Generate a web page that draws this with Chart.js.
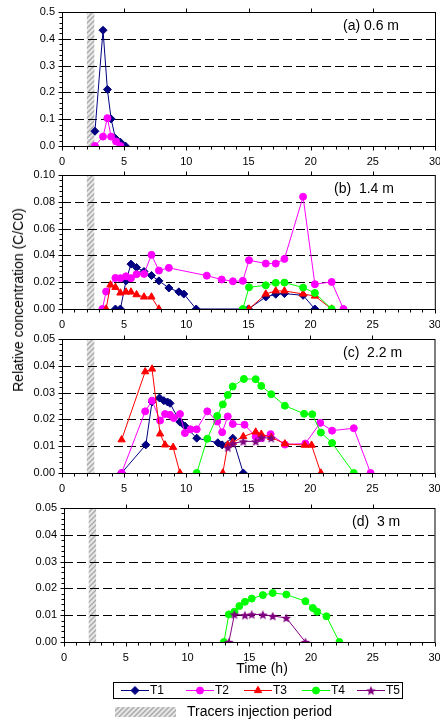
<!DOCTYPE html>
<html>
<head>
<meta charset="utf-8">
<script src="https://cdn.jsdelivr.net/npm/chart.js@4.4.1/dist/chart.umd.min.js"></script>
<style>
  html, body { margin: 0; padding: 0; background: #fff; }
  body { width: 440px; height: 724px; position: relative; overflow: hidden; font-family: "Liberation Sans", Arial, sans-serif; }
  canvas { position: absolute; left: 0; }
  #ytitle { position: absolute; left: 18px; top: 300px; transform: translate(-50%, -50%) rotate(-90deg); font-size: 14px; white-space: nowrap; color: #000; }
</style>
</head>
<body>
<canvas id="panelA" width="440" height="166" style="top:0px"></canvas>
<canvas id="panelB" width="440" height="166" style="top:163px"></canvas>
<canvas id="panelC" width="440" height="166" style="top:327px"></canvas>
<canvas id="panelD" width="440" height="228" style="top:496px"></canvas>
<div id="ytitle">Relative concentration (C/C0)</div>
<script>
// tracers
const seriesNames = ['T1', 'T2', 'T3', 'T4', 'T5'];
const seriesColors = ['#000080', '#FF00FF', '#FF0000', '#00FF00', '#800080'];

// injection period (h)
const injection = [2.0, 2.6];

const xTickLabels = ['0', '5', '10', '15', '20', '25', '30'];
const yTicksA = ['0.0', '0.1', '0.2', '0.3', '0.4', '0.5'];
const yTicksB = ['0.00', '0.02', '0.04', '0.06', '0.08', '0.10'];
const yTicksCD = ['0.00', '0.01', '0.02', '0.03', '0.04', '0.05'];

// (a) 0.6 m
const aTime1 = [2.65, 3.3, 3.65, 3.95, 4.3, 4.7, 5.1];
const aT1 = [0.055, 0.432, 0.211, 0.101, 0.028, 0.014, 0];
const aTime2 = [2.65, 3.3, 3.65, 3.95, 4.35, 4.7];
const aT2 = [0, 0.035, 0.104, 0.035, 0.017, 0];

// (b) 1.4 m
const bTime1 = [4.3, 4.7, 5.15, 5.55, 6.0, 6.6, 7.2, 7.8, 8.6, 9.4, 9.8, 10.8, 15.0, 16.4, 17.2, 17.9, 19.4, 20.35];
const bT1 = [0, 0, 0.021, 0.0335, 0.031, 0.028, 0.025, 0.021, 0.0157, 0.0128, 0.0112, 0, 0, 0.009, 0.011, 0.0115, 0.0102, 0];
const bTime2 = [3.25, 3.55, 4.3, 4.7, 5.15, 5.55, 6.0, 6.6, 7.2, 7.8, 8.6, 11.65, 12.85, 13.75, 14.55, 15.05, 16.4, 17.2, 17.9, 19.4, 20.35, 21.7, 22.65];
const bT2 = [0, 0.013, 0.0232, 0.023, 0.0244, 0.023, 0.026, 0.0262, 0.0404, 0.0287, 0.0307, 0.0249, 0.022, 0.0207, 0.021, 0.0364, 0.0339, 0.0339, 0.0374, 0.0838, 0.0185, 0.0202, 0];
const bTime3 = [3.55, 3.9, 4.3, 4.7, 5.15, 5.55, 6.0, 6.6, 7.2, 7.8, 11, 15.05, 16.4, 17.2, 17.9, 19.4, 20.35, 21.7];
const bT3 = [0, 0.018, 0.0162, 0.012, 0.0127, 0.0127, 0.0107, 0.009, 0.009, 0, null, 0, 0.0112, 0.0135, 0.0135, 0.0112, 0.0097, 0];
const bTime4 = [14.55, 15.05, 16.4, 17.2, 17.9, 19.4, 20.35, 21.7];
const bT4 = [0, 0.0162, 0.0177, 0.0195, 0.0197, 0.016, 0.012, 0];

// (c) 2.2 m
const cTime1 = [4.8, 6.75, 7.25, 7.85, 8.2, 8.5, 8.7, 9.5, 9.9, 10.85, 12.55, 12.9, 13.75, 14.6];
const cT1 = [0, 0.0105, 0.0265, 0.028, 0.027, 0.0265, 0.026, 0.019, 0.0175, 0.013, 0.0113, 0.0105, 0.013, 0];
const cTime2 = [4.8, 6.7, 7.25, 7.9, 8.3, 8.7, 9.0, 9.5, 9.9, 10.35, 10.85, 11.7, 12.5, 12.9, 13.35, 13.75, 14.7, 15.6, 16.05, 16.8, 17.95, 19.6, 20.8, 21.75, 23.5, 24.85];
const cT2 = [0, 0.023, 0.027, 0.0196, 0.022, 0.0217, 0.0205, 0.022, 0.0149, 0.0163, 0.0163, 0.023, 0.0192, 0.0152, 0.0211, 0.0183, 0.018, 0.0136, 0.013, 0.0145, 0.0106, 0.011, 0.0187, 0.0158, 0.0167, 0];
const cTime3 = [4.8, 6.7, 7.25, 7.9, 8.3, 8.95, 9.5, 11, 12.95, 13.35, 13.75, 14.6, 15.6, 16.05, 16.85, 17.95, 19.55, 20.1, 20.85];
const cT3 = [0.0124, 0.0378, 0.0388, 0.0146, 0.0105, 0.0096, 0, null, 0, 0.0105, 0.0114, 0.0136, 0.0153, 0.0145, 0.0133, 0.0109, 0.0104, 0.0104, 0];
const cTime4 = [10.85, 11.7, 12.5, 12.95, 13.35, 13.75, 14.65, 15.6, 16.05, 16.85, 17.95, 19.5, 20.15, 20.85, 21.75, 23.5];
const cT4 = [0, 0.0128, 0.0213, 0.0256, 0.0291, 0.0323, 0.0351, 0.035, 0.0325, 0.0294, 0.0251, 0.0221, 0.0219, 0.0151, 0.0112, 0];
const cTime5 = [13.35, 13.75, 14.6, 15.6, 16.05, 16.85];
const cT5 = [0.0095, 0.011, 0.0118, 0.0118, 0.0132, 0.013];

// (d) 3 m
const dTime4 = [12.95, 13.35, 13.8, 14.2, 14.65, 15.2, 16.1, 16.9, 18.0, 19.55, 20.15, 20.5, 21.25, 22.3];
const dT4 = [0, 0.0103, 0.0113, 0.0134, 0.015, 0.0162, 0.0175, 0.0183, 0.0177, 0.0152, 0.0127, 0.0113, 0.0096, 0];
const dTime5 = [13.35, 13.8, 14.65, 15.2, 16.1, 16.9, 18.0, 19.55];
const dT5 = [0, 0.0103, 0.01, 0.0103, 0.0102, 0.0097, 0.009, 0];

const xTitle = 'Time (h)';
const injectionLabel = 'Tracers injection period';
const FONT = '"Liberation Sans", Arial, sans-serif';

Chart.defaults.font.family = FONT;
Chart.defaults.color = '#000';

// filled star marker for T5
function starImage(color, r) {
    const c = document.createElement('canvas');
    const s = Math.ceil(r * 2 + 2);
    c.width = c.height = s;
    const g = c.getContext('2d');
    g.fillStyle = color;
    g.beginPath();
    for (let i = 0; i < 10; i++) {
        const rr = i % 2 ? r * 0.45 : r;
        const ang = -Math.PI / 2 + i * Math.PI / 5;
        g.lineTo(s / 2 + rr * Math.cos(ang), s / 2 + rr * Math.sin(ang) + 0.5);
    }
    g.closePath();
    g.fill();
    return c;
}
const markers = ['rectRot', 'circle', 'triangle', 'circle', starImage('#800080', 5)];
const radii = [4, 3.5, 4.2, 3.5, 4.5];

// hatch tile for the injection band
const hatchTile = document.createElement('canvas');
hatchTile.width = hatchTile.height = 5;
(function() {
    const g = hatchTile.getContext('2d');
    g.fillStyle = '#e6e6e6';
    g.fillRect(0, 0, 5, 5);
    g.strokeStyle = '#a8a8a8';
    g.lineWidth = 1.3;
    g.beginPath();
    g.moveTo(-1, 6); g.lineTo(6, -1);
    g.moveTo(-1, 1); g.lineTo(1, -1);
    g.moveTo(4, 6); g.lineTo(6, 4);
    g.stroke();
})();

function series(i, times, values) {
    return {
        label: seriesNames[i],
        data: times.map((t, k) => ({ x: t, y: values[k] })),
        borderColor: seriesColors[i],
        backgroundColor: seriesColors[i],
        borderWidth: 1,
        pointStyle: markers[i],
        pointRadius: radii[i],
        pointBorderWidth: 1,
        tension: 0,
        spanGaps: false,
        order: 5 - i
    };
}

function drawMarker(ctx, i, x, y) {
    ctx.save();
    ctx.fillStyle = seriesColors[i];
    ctx.strokeStyle = seriesColors[i];
    ctx.lineWidth = 1;
    Chart.helpers.drawPoint(ctx, { pointStyle: markers[i], radius: radii[i], rotation: 0, borderWidth: 1 }, x, y);
    ctx.restore();
}

const deco = {
    id: 'deco',
    beforeDatasetsDraw(chart, args, o) {
        const { ctx, chartArea: a, scales: { x, y } } = chart;
        ctx.save();
        // injection band
        const x1 = x.getPixelForValue(injection[0]);
        const x2 = x.getPixelForValue(injection[1]);
        ctx.fillStyle = ctx.createPattern(hatchTile, 'repeat');
        ctx.fillRect(x1, a.top, x2 - x1, a.bottom - a.top);
        // dashed gridlines
        ctx.strokeStyle = '#000';
        ctx.lineWidth = 1;
        ctx.setLineDash([9, 4]);
        y.ticks.forEach(t => {
            if (t.value > y.min + 1e-9 && t.value < y.max - 1e-9) {
                const py = Math.round(y.getPixelForValue(t.value)) + 0.5;
                ctx.beginPath();
                ctx.moveTo(a.left, py);
                ctx.lineTo(a.right, py);
                ctx.stroke();
            }
        });
        ctx.restore();
    },
    afterDatasetsDraw(chart, args, o) {
        const { ctx, chartArea: a, scales: { x, y } } = chart;
        ctx.save();
        ctx.strokeStyle = '#000';
        ctx.lineWidth = 1;
        ctx.strokeRect(a.left + 0.5, a.top + 0.5, a.right - a.left, a.bottom - a.top);
        ctx.beginPath();
        // x ticks: minor every 1 h, major every 5 h
        for (let v = 0; v <= 30; v++) {
            const px = Math.round(x.getPixelForValue(v)) + 0.5;
            const len = v % 5 === 0 ? 4 : 3;
            ctx.moveTo(px, a.bottom + 0.5);
            ctx.lineTo(px, a.bottom + 0.5 + len);
            if (v % 5 === 0 && v > 0 && v < 30) {
                ctx.moveTo(px, a.top + 0.5);
                ctx.lineTo(px, a.top + 0.5 - 4);
            }
        }
        // y ticks: five minor steps per major step
        const step = o.yStep / 5;
        const n = Math.round((y.max - y.min) / step);
        for (let k = 0; k <= n; k++) {
            const py = Math.round(y.getPixelForValue(k * step)) + 0.5;
            const len = k % 5 === 0 ? 4 : 3;
            ctx.moveTo(a.left + 0.5, py);
            ctx.lineTo(a.left + 0.5 - len, py);
        }
        ctx.stroke();
        // panel tag
        ctx.fillStyle = '#000';
        ctx.font = '14px ' + FONT;
        ctx.textBaseline = 'middle';
        ctx.textAlign = 'left';
        ctx.fillText(o.tag, o.tagX, a.top + 14);
        ctx.restore();
    },
    afterDraw(chart, args, o) {
        if (!o.extras) return;
        const ctx = chart.ctx;
        ctx.save();
        ctx.fillStyle = '#000';
        ctx.textBaseline = 'middle';
        ctx.font = '14px ' + FONT;
        ctx.textAlign = 'center';
        ctx.fillText(xTitle, 262, 173);
        // legend box
        ctx.strokeStyle = '#000';
        ctx.lineWidth = 1;
        ctx.strokeRect(113.5, 186.5, 289, 16);
        ctx.font = '12px ' + FONT;
        ctx.textAlign = 'left';
        const starts = [121, 186, 244, 302, 357];
        seriesNames.forEach((name, i) => {
            const lx = starts[i], ly = 194.5;
            ctx.strokeStyle = seriesColors[i];
            ctx.beginPath();
            ctx.moveTo(lx, ly);
            ctx.lineTo(lx + 28, ly);
            ctx.stroke();
            drawMarker(ctx, i, lx + 14, ly);
            ctx.fillStyle = '#000';
            ctx.fillText(name, lx + 29, ly + 0.5);
        });
        // injection period key
        ctx.fillStyle = ctx.createPattern(hatchTile, 'repeat');
        ctx.fillRect(115, 211, 61, 10);
        ctx.fillStyle = '#000';
        ctx.font = '14px ' + FONT;
        ctx.fillText(injectionLabel, 187, 216.5);
        ctx.restore();
    }
};

function makePanel(id, yLabels, datasets, tag, tagX, plotLeft, plotRight, extras) {
    const canvas = document.getElementById(id);
    const xAxisH = canvas.height - 12 - 134;
    const yMax = parseFloat(yLabels[yLabels.length - 1]);
    const yStep = parseFloat(yLabels[1]);
    return new Chart(canvas, {
        type: 'line',
        data: { datasets: datasets },
        options: {
            responsive: false,
            animation: false,
            events: [],
            layout: { padding: { top: 12, left: 0, right: 440 - plotRight, bottom: 0 } },
            plugins: {
                legend: { display: false },
                tooltip: { enabled: false },
                deco: { tag: tag, tagX: tagX, yStep: yStep, extras: extras }
            },
            scales: {
                x: {
                    type: 'linear', min: 0, max: 30,
                    grid: { display: false, drawTicks: false },
                    border: { display: false },
                    ticks: { stepSize: 5, padding: 9, maxRotation: 0, autoSkip: false,
                             font: { size: 11 }, callback: (v, i) => xTickLabels[i] },
                    afterFit: s => { s.height = xAxisH; s.paddingLeft = 0; s.paddingRight = 0; }
                },
                y: {
                    min: 0, max: yMax,
                    grid: { display: false, drawTicks: false },
                    border: { display: false },
                    ticks: { stepSize: yStep, padding: 7, font: { size: 11 },
                             callback: (v, i) => yLabels[i] },
                    afterFit: s => { s.width = plotLeft; s.paddingTop = 0; s.paddingBottom = 0; }
                }
            }
        },
        plugins: [deco]
    });
}

makePanel('panelA', yTicksA, [
    series(0, aTime1, aT1),
    series(1, aTime2, aT2)
], '(a) 0.6 m', 343, 62, 435, false);

makePanel('panelB', yTicksB, [
    series(0, bTime1, bT1),
    series(1, bTime2, bT2),
    series(2, bTime3, bT3),
    series(3, bTime4, bT4)
], '(b)  1.4 m', 334, 62, 435, false);

makePanel('panelC', yTicksCD, [
    series(0, cTime1, cT1),
    series(1, cTime2, cT2),
    series(2, cTime3, cT3),
    series(3, cTime4, cT4),
    series(4, cTime5, cT5)
], '(c)  2.2 m', 343, 62, 435, false);

makePanel('panelD', yTicksCD, [
    series(3, dTime4, dT4),
    series(4, dTime5, dT5)
], '(d)  3 m', 352, 64, 436, true);
</script>
</body>
</html>
